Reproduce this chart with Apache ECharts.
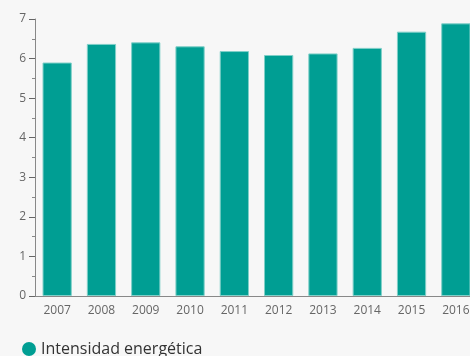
<!DOCTYPE html>
<html>
<head>
<meta charset="utf-8">
<script src="https://cdn.jsdelivr.net/npm/echarts@6/dist/echarts.min.js"></script>
<style>
  html, body { margin: 0; padding: 0; background: #f7f7f7; }
  #chart { width: 470px; height: 356px; }
</style>
</head>
<body>
<div id="chart"></div>
<script>
const years = ['2007', '2008', '2009', '2010', '2011', '2012', '2013', '2014', '2015', '2016'];
const intensidad = [5.90, 6.37, 6.41, 6.31, 6.19, 6.09, 6.13, 6.27, 6.68, 6.89];
const yTicks = [0, 1, 2, 3, 4, 5, 6, 7];

let chart = echarts.init(document.getElementById('chart'));

const option = {
    backgroundColor: '#f7f7f7',
    textStyle: { fontFamily: 'Open Sans' },
    legend: {
        left: 17,
        top: 336,
        itemWidth: 14,
        itemHeight: 14,
        icon: 'circle',
        itemStyle: { borderWidth: 0 },
        textStyle: { fontSize: 16, color: '#333', fontFamily: 'Open Sans' },
        data: ['Intensidad energética']
    },
    grid: {
        left: 35,
        top: 19,
        bottom: 60,
        width: 443,
        outerBoundsMode: 'none',
        containLabel: false
    },
    xAxis: {
        type: 'category',
        data: years,
        axisLine: { lineStyle: { color: '#888' } },
        axisTick: { alignWithLabel: true, length: 5, lineStyle: { color: '#666' } },
        axisLabel: { color: '#666', fontSize: 12, margin: 9 }
    },
    yAxis: {
        type: 'value',
        min: yTicks[0],
        max: yTicks[yTicks.length - 1],
        interval: 1,
        splitLine: { show: false },
        axisLine: { show: true, lineStyle: { color: '#888' } },
        axisTick: { show: true, length: 6, lineStyle: { color: '#666' } },
        minorTick: { show: true, splitNumber: 2, length: 3, lineStyle: { color: '#888' } },
        axisLabel: { color: '#666', fontSize: 12, margin: 9 }
    },
    series: [{
        name: 'Intensidad energética',
        type: 'bar',
        data: intensidad,
        barWidth: '66%',
        itemStyle: {
            color: '#009e93',
            borderColor: '#7fcfc8',
            borderWidth: 1
        }
    }]
};

chart.setOption(option);
window.addEventListener('resize', chart.resize);
</script>
</body>
</html>
